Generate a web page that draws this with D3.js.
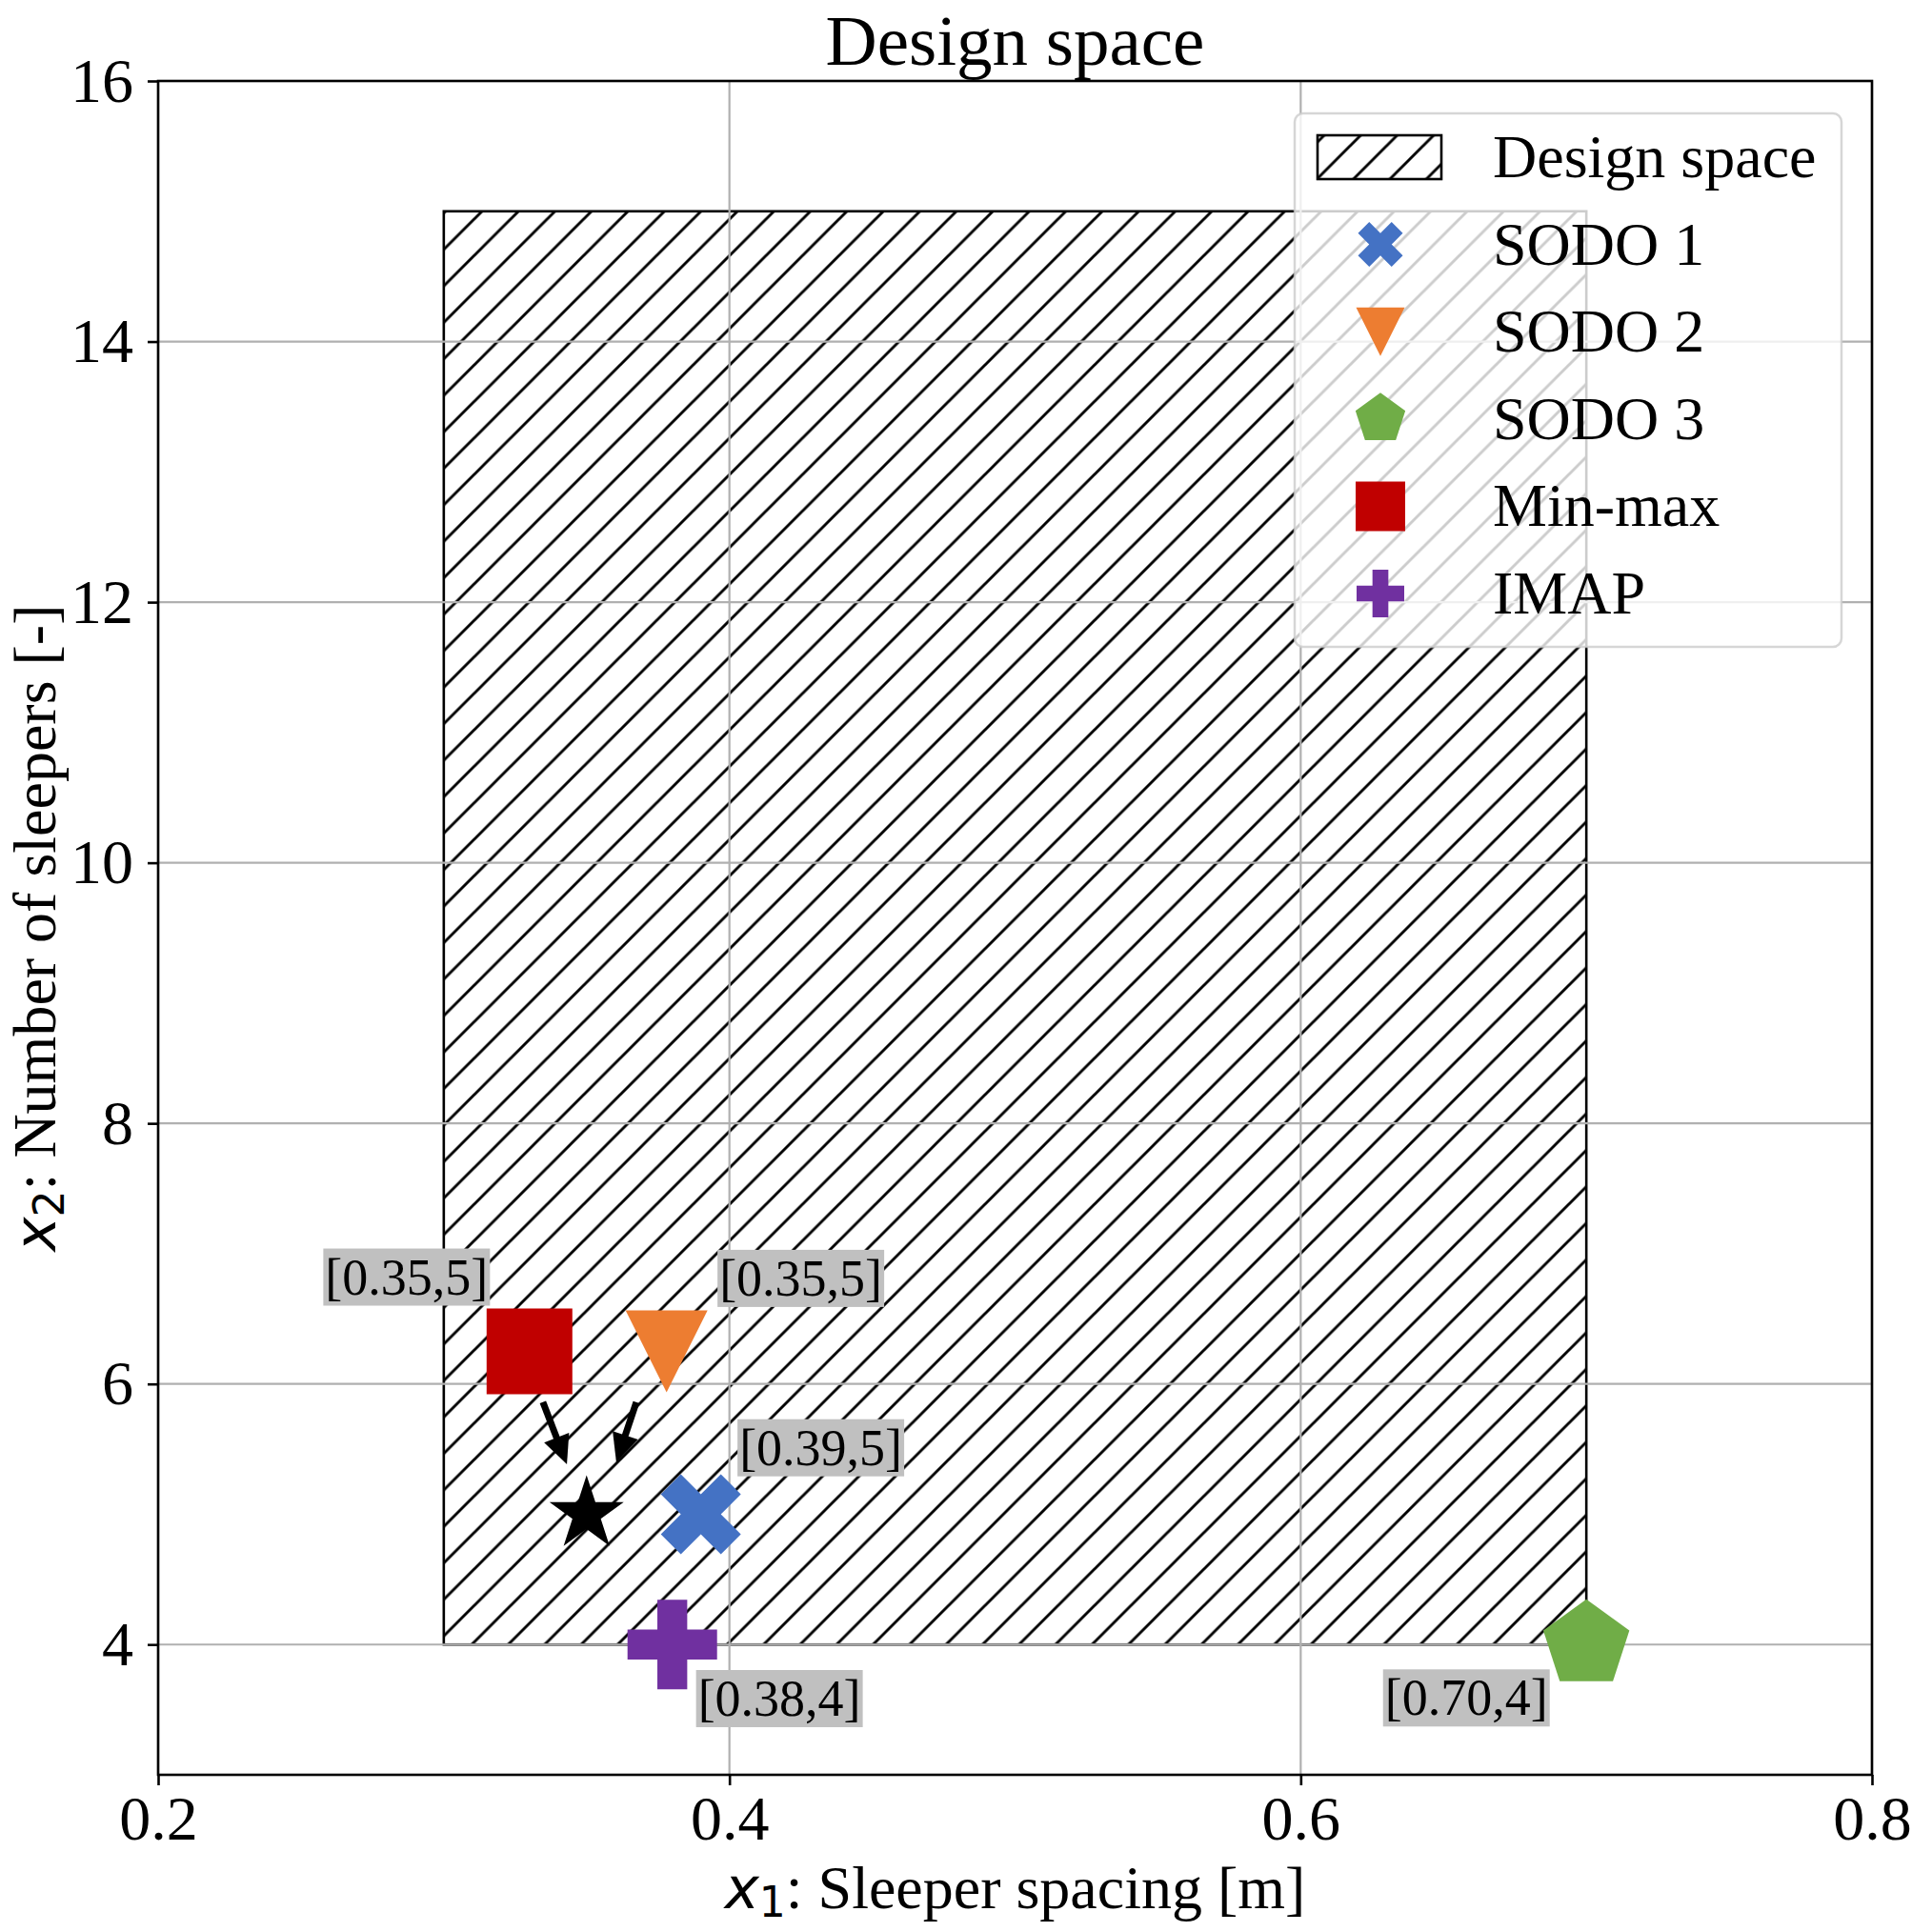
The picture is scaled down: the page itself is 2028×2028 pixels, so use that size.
<!DOCTYPE html>
<html>
<head>
<meta charset="utf-8">
<script src="https://cdn.jsdelivr.net/npm/d3@7"></script>
<style>
    html, body { margin: 0; padding: 0; background: #fff; }
    svg { display: block; }
</style>
</head>
<body>
<svg id="chart" width="2028" height="2028"></svg>
<script>
// axis ticks
var xTicks = [0.2, 0.4, 0.6, 0.8];
var yTicks = [4, 6, 8, 10, 12, 14, 16];

// design space bounds
var designX = [0.3, 0.7];
var designY = [4, 15];

// solutions (plotted positions)
var seriesNames = ['SODO 1', 'SODO 2', 'SODO 3', 'Min-max', 'IMAP'];
var seriesX = [0.39, 0.378, 0.70, 0.33, 0.38];
var seriesY = [5, 6.25, 4, 6.25, 4];

// common optimum marked with a star
var starX = [0.35];
var starY = [5];

// value labels, anchored at their centre in data units
var labelTexts = ['[0.39,5]', '[0.35,5]', '[0.70,4]', '[0.35,5]', '[0.38,4]'];
var labelX = [0.432, 0.425, 0.658, 0.287, 0.4175];
var labelY = [5.51, 6.81, 3.59, 6.82, 3.585];

// arrows from displaced markers to the star
var arrowFromX = [0.3347, 0.3674];
var arrowFromY = [5.86, 5.86];
var arrowToX = [0.3431, 0.3604];
var arrowToY = [5.383, 5.398];

var serif = '"Liberation Serif", "Times New Roman", serif';
var mathFont = '"DejaVu Sans", sans-serif';

var plotLeft = 166, plotRight = 1965, plotTop = 85, plotBottom = 1863;

var x = d3.scaleLinear().domain([0.2, 0.8]).range([plotLeft, plotRight]);
var y = d3.scaleLinear().domain([3, 16]).range([plotBottom, plotTop]);

// marker shapes, normalised to a span of 1
function polyType(pts) {
    return {
        draw: function (ctx, size) {
            var s = Math.sqrt(size);
            ctx.moveTo(pts[0][0] * s, pts[0][1] * s);
            for (var i = 1; i < pts.length; i++) {
                ctx.lineTo(pts[i][0] * s, pts[i][1] * s);
            }
            ctx.closePath();
        }
    };
}

function regular(n, inner) {
    var pts = [];
    var step = Math.PI / n;
    for (var i = 0; i < 2 * n; i++) {
        if (!inner && i % 2 === 1) continue;
        var r = (i % 2 === 1) ? 0.5 * inner : 0.5;
        var a = -Math.PI / 2 + i * step;
        pts.push([r * Math.cos(a), r * Math.sin(a)]);
    }
    return pts;
}

var symX = polyType([[-1, -2], [0, -1], [1, -2], [2, -1], [1, 0], [2, 1], [1, 2], [0, 1], [-1, 2], [-2, 1], [-1, 0], [-2, -1]]
    .map(function (p) { return [p[0] / 4, p[1] / 4]; }));
var symPlus = polyType([[-1, -3], [1, -3], [1, -1], [3, -1], [3, 1], [1, 1], [1, 3], [-1, 3], [-1, 1], [-3, 1], [-3, -1], [-1, -1]]
    .map(function (p) { return [p[0] / 6, p[1] / 6]; }));
var symSquare = polyType([[-0.5, -0.5], [0.5, -0.5], [0.5, 0.5], [-0.5, 0.5]]);
var symTriDown = polyType([[0, 0.5], [-0.5, -0.5], [0.5, -0.5]]);
var symPentagon = polyType(regular(5));
var symStar = polyType(regular(5, 0.381966));

var colors = ['#4472C4', '#ED7D31', '#70AD47', '#C00000', '#7030A0'];
var shapes = [symX, symTriDown, symPentagon, symSquare, symPlus];
var spans = [84, 86, 95, 90, 94];
var legendSpans = [47, 51, 55, 52, 50];

var svg = d3.select('#chart');

// hatch
var defs = svg.append('defs');
var hp = 38.3;
var pattern = defs.append('pattern')
    .attr('id', 'hatch')
    .attr('patternUnits', 'userSpaceOnUse')
    .attr('width', hp)
    .attr('height', hp);

pattern.append('path')
    .attr('d', `M0,${hp} L${hp},0 M${-hp / 2},${hp / 2} L${hp / 2},${-hp / 2} M${hp / 2},${hp * 1.5} L${hp * 1.5},${hp / 2}`)
    .attr('stroke', '#000')
    .attr('stroke-width', 2.9);

svg.append('rect')
    .attr('width', 2028)
    .attr('height', 2028)
    .attr('fill', '#fff');

// design space
svg.append('rect')
    .attr('x', x(designX[0]))
    .attr('y', y(designY[1]))
    .attr('width', x(designX[1]) - x(designX[0]))
    .attr('height', y(designY[0]) - y(designY[1]))
    .attr('fill', 'url(#hatch)')
    .attr('stroke', '#000')
    .attr('stroke-width', 2.6);

// grid
var grid = svg.append('g');

grid.selectAll('.gx')
    .data(xTicks)
    .enter()
    .append('line')
    .attr('x1', function (d) { return x(d); })
    .attr('x2', function (d) { return x(d); })
    .attr('y1', plotTop)
    .attr('y2', plotBottom)
    .attr('stroke', '#b0b0b0')
    .attr('stroke-width', 2.2);

grid.selectAll('.gy')
    .data(yTicks)
    .enter()
    .append('line')
    .attr('x1', plotLeft)
    .attr('x2', plotRight)
    .attr('y1', function (d) { return y(d); })
    .attr('y2', function (d) { return y(d); })
    .attr('stroke', '#b0b0b0')
    .attr('stroke-width', 2.2);

// markers
var symbol = d3.symbol();

svg.append('g')
    .selectAll('path')
    .data(seriesNames)
    .enter()
    .append('path')
    .attr('transform', function (d, i) { return `translate(${x(seriesX[i])},${y(seriesY[i])})`; })
    .attr('d', function (d, i) { return symbol.type(shapes[i]).size(spans[i] * spans[i])(); })
    .attr('fill', function (d, i) { return colors[i]; });

svg.append('g')
    .selectAll('path')
    .data(starX)
    .enter()
    .append('path')
    .attr('transform', function (d, i) { return `translate(${x(starX[i])},${y(starY[i])})`; })
    .attr('d', symbol.type(symStar).size(82 * 82)())
    .attr('fill', '#000');

// arrows
var arrows = svg.append('g');

arrowFromX.forEach(function (d, i) {
    var x0 = x(arrowFromX[i]), y0 = y(arrowFromY[i]);
    var x1 = x(arrowToX[i]), y1 = y(arrowToY[i]);
    var len = Math.hypot(x1 - x0, y1 - y0);
    var ux = (x1 - x0) / len, uy = (y1 - y0) / len;
    var headLen = 30, headW = 14;
    var bx = x1 - ux * headLen, by = y1 - uy * headLen;

    arrows.append('line')
        .attr('x1', x0)
        .attr('y1', y0)
        .attr('x2', bx + ux * 2)
        .attr('y2', by + uy * 2)
        .attr('stroke', '#000')
        .attr('stroke-width', 7);

    arrows.append('path')
        .attr('d', `M${x1},${y1} L${bx - uy * headW},${by + ux * headW} L${bx + uy * headW},${by - ux * headW} Z`)
        .attr('fill', '#000');
});

// spines
svg.append('rect')
    .attr('x', plotLeft)
    .attr('y', plotTop)
    .attr('width', plotRight - plotLeft)
    .attr('height', plotBottom - plotTop)
    .attr('fill', 'none')
    .attr('stroke', '#000')
    .attr('stroke-width', 2.6);

// axes
var xAxis = svg.append('g')
    .attr('transform', `translate(0,${plotBottom})`)
    .call(d3.axisBottom(x).tickValues(xTicks).tickFormat(d3.format('.1f')).tickSize(11).tickPadding(10));

var yAxis = svg.append('g')
    .attr('transform', `translate(${plotLeft},0)`)
    .call(d3.axisLeft(y).tickValues(yTicks).tickFormat(d3.format('d')).tickSize(11).tickPadding(15));

[xAxis, yAxis].forEach(function (a) {
    a.select('.domain').remove();
    a.selectAll('line').attr('stroke', '#000').attr('stroke-width', 2.6);
    a.selectAll('text')
        .attr('fill', '#000')
        .style('font-family', serif)
        .style('font-size', '66px');
});

// value labels
var labels = svg.append('g');

labelTexts.forEach(function (t, i) {
    var g = labels.append('g');
    var txt = g.append('text')
        .text(t)
        .attr('x', x(labelX[i]))
        .attr('y', y(labelY[i]) + 18)
        .attr('text-anchor', 'middle')
        .style('font-family', serif)
        .style('font-size', '54px')
        .attr('fill', '#000');
    var bb = txt.node().getBBox();
    g.insert('rect', 'text')
        .attr('x', bb.x - 2)
        .attr('y', bb.y)
        .attr('width', bb.width + 4)
        .attr('height', bb.height)
        .attr('fill', '#c0c0c0');
});

// title
svg.append('text')
    .text('Design space')
    .attr('x', (plotLeft + plotRight) / 2)
    .attr('y', 68)
    .attr('text-anchor', 'middle')
    .style('font-family', serif)
    .style('font-size', '75px')
    .attr('fill', '#000');

// axis titles
function axisTitle(g, sub, rest) {
    var t = g.append('text')
        .attr('text-anchor', 'middle')
        .style('font-family', serif)
        .style('font-size', '64px')
        .attr('fill', '#000');
    t.append('tspan')
        .text('x')
        .style('font-family', mathFont)
        .style('font-style', 'italic')
        .style('font-size', '61px');
    t.append('tspan')
        .text(sub)
        .attr('dy', 9)
        .style('font-family', mathFont)
        .style('font-size', '44px');
    t.append('tspan')
        .text(rest)
        .attr('dy', -9);
    return t;
}

var xTitle = svg.append('g')
    .attr('transform', `translate(${(plotLeft + plotRight) / 2},2003)`);
axisTitle(xTitle, '1', ': Sleeper spacing [m]');

var yTitle = svg.append('g')
    .attr('transform', `translate(58,${(plotTop + plotBottom) / 2}) rotate(-90)`);
axisTitle(yTitle, '2', ': Number of sleepers [-]');

// legend
var legend = svg.append('g');

legend.append('rect')
    .attr('x', 1359)
    .attr('y', 119)
    .attr('width', 574)
    .attr('height', 560)
    .attr('rx', 9)
    .attr('fill', '#fff')
    .attr('fill-opacity', 0.8)
    .attr('stroke', '#cccccc')
    .attr('stroke-opacity', 0.8)
    .attr('stroke-width', 2.5);

var rowY = function (i) { return 165 + i * 91.6; };

legend.append('rect')
    .attr('x', 1383)
    .attr('y', rowY(0) - 23)
    .attr('width', 130)
    .attr('height', 46)
    .attr('fill', 'url(#hatch)')
    .attr('stroke', '#000')
    .attr('stroke-width', 2.6);

legend.append('text')
    .text('Design space')
    .attr('x', 1567)
    .attr('y', rowY(0) + 21)
    .style('font-family', serif)
    .style('font-size', '64px')
    .attr('fill', '#000');

seriesNames.forEach(function (name, i) {
    legend.append('path')
        .attr('transform', `translate(1449,${rowY(i + 1)})`)
        .attr('d', symbol.type(shapes[i]).size(legendSpans[i] * legendSpans[i])())
        .attr('fill', colors[i]);

    legend.append('text')
        .text(name)
        .attr('x', 1567)
        .attr('y', rowY(i + 1) + 21)
        .style('font-family', serif)
        .style('font-size', '64px')
        .attr('fill', '#000');
});
</script>
</body>
</html>
